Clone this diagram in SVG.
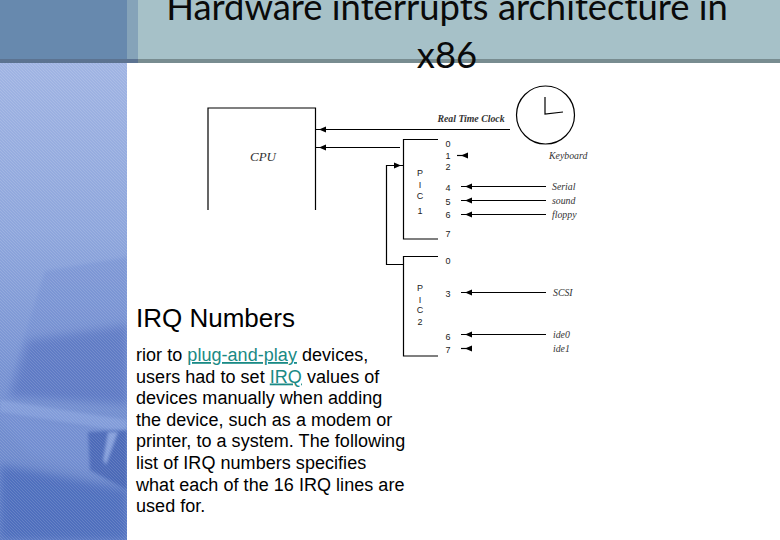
<svg xmlns="http://www.w3.org/2000/svg" width="780" height="540" viewBox="0 0 780 540">
<style>
.ln{fill:none;stroke:#000;stroke-width:1.2}
.ah{fill:#000}
.n{font:9px "Liberation Sans",sans-serif;fill:#222;text-anchor:middle}
.l{font:italic 9.800px "Liberation Serif",serif;fill:#333}
.b{font:18px "Liberation Sans",Arial,sans-serif;fill:#000;letter-spacing:.04px}
.t{font:36.400px "Lato","Noto Sans",sans-serif;fill:#0a0a0a}
.u{fill:#1a8a85;text-decoration:underline}
</style>
<defs>
<marker id="a" markerWidth="12" markerHeight="8" refX="11" refY="4" orient="auto" markerUnits="userSpaceOnUse"><path d="M7 4L0 1V7Z" class="ah"/></marker>
<linearGradient id="g" x1="0" y1="0" x2="0" y2="1"><stop offset="0" stop-color="#a0b4e3"/><stop offset=".35" stop-color="#8ea6dc"/><stop offset=".65" stop-color="#7792d2"/><stop offset="1" stop-color="#6683c8"/></linearGradient>
<pattern id="h" width="3" height="3" patternUnits="userSpaceOnUse"><path d="M0 0L3 3" stroke="#fff" stroke-opacity=".13" stroke-width="1"/></pattern>
<filter id="bl" x="-20%" y="-20%" width="140%" height="140%"><feGaussianBlur stdDeviation="4"/></filter>
<filter id="bs" x="-20%" y="-20%" width="140%" height="140%"><feGaussianBlur stdDeviation="1.500"/></filter>
<clipPath id="c"><rect x="0" y="63" width="127" height="477"/></clipPath>
</defs>
<rect width="780" height="540" fill="#fff"/>
<g id="band" clip-path="url(#c)">
<rect x="0" y="63" width="127" height="477" fill="url(#g)"/>
<path d="M45 271L127 257V400L5 398Z" fill="#6f8bd0" opacity=".4" filter="url(#bs)"/>
<path d="M28 340L127 325V405L10 396Z" fill="#4f6cbc" opacity=".55" filter="url(#bl)"/>
<path d="M0 400L127 420V432L0 412Z" fill="#86a0dc" opacity=".8" filter="url(#bs)"/>
<path d="M-5 412L127 435V480L95 475L30 455Z" fill="#7893d6" opacity=".4" filter="url(#bl)"/>
<path d="M88 432L127 430V490L90 470Z" fill="#3f5fb0" opacity=".75" filter="url(#bs)"/>
<path d="M108 432L118 432L106 465L103 460Z" fill="#8ca5df" opacity=".9" filter="url(#bs)"/>
<path d="M0 465L30 470L127 490V540H0Z" fill="#4c6cbc" opacity=".85" filter="url(#bl)"/>
<rect x="0" y="63" width="127" height="477" fill="url(#h)"/>
</g>
<g id="header">
<rect x="0" y="0" width="780" height="60" fill="#a6c1c8"/>
<rect x="0" y="0" width="127" height="60" fill="#6789ae"/>
<rect x="127" y="0" width="11" height="60" fill="#85a3b9"/>
<rect x="0" y="59" width="780" height="4" fill="#788c90"/>
<rect x="0" y="59" width="138" height="4" fill="#5c7391"/>
<text class="t" x="447" y="20" text-anchor="middle">Hardware interrupts architecture in</text>
<text class="t" x="447" y="68" text-anchor="middle">x86</text>
</g>
<g id="cpu"><path class="ln" d="M208 210V108H315.500V210"/><text class="l" x="263" y="161" text-anchor="middle" style="font-size:13px">CPU</text></g>
<g id="clock"><circle class="ln" cx="545.500" cy="115" r="29"/><path class="ln" d="M545 97V114L563 112"/><text class="l" x="471" y="122" text-anchor="middle" style="font-weight:bold">Real Time Clock</text></g>
<g id="pic1"><path class="ln" d="M438 139.500H403.500V239H438"/>
<text class="n" x="420" y="176">P</text><text class="n" x="420" y="188">I</text><text class="n" x="420" y="199">C</text><text class="n" x="420" y="214">1</text>
<text class="n" x="448" y="147">0</text><text class="n" x="448" y="159">1</text><text class="n" x="448" y="170">2</text><text class="n" x="448" y="191">4</text><text class="n" x="448" y="205">5</text><text class="n" x="448" y="218">6</text><text class="n" x="448" y="237">7</text></g>
<g id="pic2"><path class="ln" d="M438 256.500H403.500V356H438"/>
<text class="n" x="420" y="291">P</text><text class="n" x="420" y="303">I</text><text class="n" x="420" y="313">C</text><text class="n" x="420" y="325">2</text>
<text class="n" x="448" y="264">0</text><text class="n" x="448" y="297">3</text><text class="n" x="448" y="340">6</text><text class="n" x="448" y="353">7</text></g>
<g id="labels"><text class="l" x="549" y="159">Keyboard</text><text class="l" x="552" y="190">Serial</text><text class="l" x="552" y="204">sound</text><text class="l" x="552" y="218">floppy</text><text class="l" x="553" y="296">SCSI</text><text class="l" x="553" y="338">ide0</text><text class="l" x="553" y="352">ide1</text></g>
<g id="connectors">
<path class="ln" d="M510 129.500H315" marker-end="url(#a)"/>
<path class="ln" d="M400 147.500H315" marker-end="url(#a)"/>
<path class="ln" d="M403 264.500H386.500V165.500H403"/>
<path class="ah" d="M401 165.500L394 162.500V168.500Z"/>
<path class="ln" d="M468 155.500H457" marker-end="url(#a)"/>
<path class="ln" d="M546 186.500H461" marker-end="url(#a)"/>
<path class="ln" d="M546 200.500H461" marker-end="url(#a)"/>
<path class="ln" d="M546 214.500H461" marker-end="url(#a)"/>
<path class="ln" d="M546 292.500H461" marker-end="url(#a)"/>
<path class="ln" d="M546 334.500H461" marker-end="url(#a)"/>
<path class="ln" d="M470 348.500H461" marker-end="url(#a)"/>
</g>
<g id="text">
<text x="136" y="327" style="font:26px 'Liberation Sans',sans-serif">IRQ Numbers</text>
<text class="b"><tspan x="136" y="361">rior to </tspan><tspan class="u">plug-and-play</tspan><tspan> devices,</tspan>
<tspan x="136" y="382.500">users had to set </tspan><tspan class="u">IRQ</tspan><tspan> values of</tspan>
<tspan x="136" y="404">devices manually when adding</tspan>
<tspan x="136" y="425.500">the device, such as a modem or</tspan>
<tspan x="136" y="447">printer, to a system. The following</tspan>
<tspan x="136" y="469">list of IRQ numbers specifies</tspan>
<tspan x="136" y="490.500">what each of the 16 IRQ lines are</tspan>
<tspan x="136" y="512">used for.</tspan></text>
</g>
</svg>
